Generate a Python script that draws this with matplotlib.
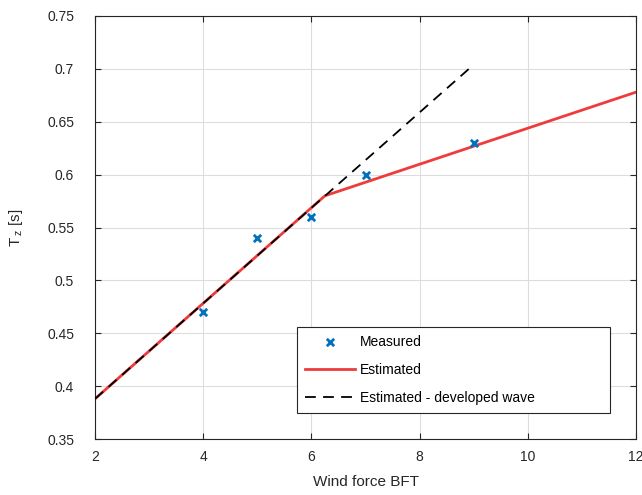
import numpy as np
import matplotlib
matplotlib.use("Agg")
import matplotlib.pyplot as plt

plt.rcParams['font.family'] = ['Liberation Sans', 'DejaVu Sans']

# measured points
bft_meas = [4, 5, 6, 7, 9]
tz_meas = [0.47, 0.54, 0.56, 0.60, 0.63]

# estimated (two segments)
bft_est = [2, 6.25, 12]
tz_est = [0.388, 0.580, 0.678]

# estimated - developed wave
bft_dev = [2, 9]
tz_dev = [0.388, 0.704]

fig = plt.figure(figsize=(6.42, 4.95), dpi=100)
ax = fig.add_axes([0.148, 0.1131, 0.8427, 0.8546])

ax.scatter(bft_meas, tz_meas, marker='x', color='#0072BD', s=28, linewidths=2,
           label='Measured', zorder=4)
ax.plot(bft_est, tz_est, color='#EE3B3B', lw=2, label='Estimated', zorder=2)
ax.plot(bft_dev, tz_dev, color='black', lw=1.3, ls=(0, (6, 4)),
        label='Estimated - developed wave', zorder=3)

ax.set_xlim(2, 12)
ax.set_ylim(0.35, 0.75)
ax.set_xticks(np.arange(2, 13, 2))
yt = np.arange(0.35, 0.751, 0.05)
ax.set_yticks(yt)
ax.set_yticklabels(['%g' % round(v, 2) for v in yt])
ax.grid(True, color='#DDDDDD', lw=0.8)
ax.set_axisbelow(True)
ax.tick_params(direction='in', top=True, right=True, labelsize=10, length=4,
               colors='#262626')
ax.tick_params(axis='x', pad=8)
ax.tick_params(axis='y', pad=15)
for s in ax.spines.values():
    s.set_color('#262626')
    s.set_linewidth(0.8)

ax.set_xlabel('Wind force BFT', fontsize=11, color='#262626', labelpad=8)
ax.set_ylabel(r'$\mathregular{T_{\,z}}$ [s]', fontsize=11, color='#262626', labelpad=16)

leg = ax.legend(loc='lower left', bbox_to_anchor=(0.373, 0.0615, 0.579, 0.2),
                mode='expand', fontsize=10, borderaxespad=0,
                fancybox=False, framealpha=1, edgecolor='#262626',
                handlelength=3.6, handletextpad=0.35, borderpad=0.6,
                labelspacing=1.0)
leg.get_frame().set_linewidth(0.8)

fig.savefig('out.png', dpi=100)
